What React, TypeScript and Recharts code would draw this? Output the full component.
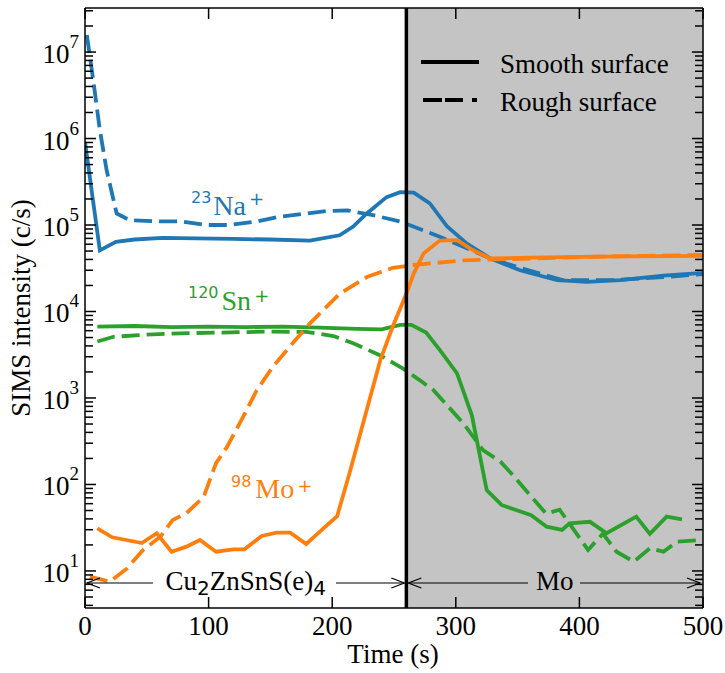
import React from 'react';
import { LineChart, Line, XAxis, YAxis, ReferenceArea, ReferenceLine } from 'recharts';

// [time (s), counts per second]
const naSmooth: [number, number][] = [
  [0, 9.1e5], [12, 5.1e4], [25, 6.4e4], [40, 6.8e4], [63, 7.1e4], [90, 7.0e4], [120, 6.9e4],
  [150, 6.8e4], [182, 6.6e4], [206, 7.6e4], [217, 9.6e4], [228, 1.36e5], [244, 2.1e5], [255, 2.4e5],
  [266, 2.37e5], [279, 1.78e5], [293, 9.6e4], [309, 6.1e4], [328, 4.1e4], [352, 3.0e4], [382, 2.3e4],
  [406, 2.2e4], [433, 2.3e4], [468, 2.6e4], [500, 2.8e4],
];
const naRough: [number, number][] = [
  [1.5, 1.57e7], [6.7, 4.7e6], [12, 1.26e6], [17.5, 4.3e5], [25.6, 1.36e5], [36, 1.14e5], [60, 1.1e5],
  [77, 1.1e5], [98, 1.0e5], [117, 1.0e5], [139, 1.1e5], [158, 1.25e5], [179, 1.36e5], [196, 1.45e5],
  [212, 1.48e5], [233, 1.3e5], [255, 1.1e5], [287, 7.3e4], [309, 5.4e4], [328, 4.1e4], [352, 3.2e4],
  [387, 2.3e4], [427, 2.3e4], [468, 2.5e4], [500, 2.7e4],
];
const snSmooth: [number, number][] = [
  [10, 6.7e3], [40, 6.8e3], [70, 6.6e3], [100, 6.7e3], [130, 6.6e3], [160, 6.7e3], [190, 6.5e3],
  [220, 6.3e3], [240, 6.2e3], [255, 7.0e3], [264, 7.0e3], [276, 5.7e3], [287, 3.6e3], [301, 1.93e3],
  [313, 630], [325, 86], [337, 58], [361, 44], [373.5, 32.5], [386, 29.8], [392, 35.5], [408.6, 37],
  [422, 27.3], [446, 42.5], [457, 26.8], [470.6, 42.5], [483, 39.6],
];
const snRough: [number, number][] = [
  [10, 4.5e3], [23, 5.1e3], [50, 5.4e3], [77, 5.6e3], [110, 5.7e3], [147, 5.85e3], [179, 5.8e3],
  [201, 5.2e3], [217, 4.3e3], [239, 3.1e3], [257, 2.2e3], [271, 1.6e3], [282, 1.23e3], [306, 510],
  [322, 250], [336, 184], [346, 129], [373, 46], [384, 51], [407, 17.5], [419, 27], [430, 16.7],
  [444, 12.8], [457, 18.3], [468, 16.7], [479, 21.8], [500, 22.8],
];
const moSmooth: [number, number][] = [
  [10, 31], [22, 24.5], [46, 21], [58, 27.3], [70, 16.7], [82, 19.1], [93, 22.8], [106, 16.7],
  [120, 17.8], [129, 17.8], [143, 25.4], [155, 27.7], [166, 27.7], [179, 20.5], [190, 28.5],
  [204, 43], [214, 135], [225, 510], [239, 2.76e3], [249, 6.7e3], [260, 1.6e4], [266, 2.76e4],
  [274, 4.7e4], [287, 6.6e4], [301, 6.7e4], [314, 5.1e4], [328, 4.1e4], [360, 4.2e4], [414, 4.3e4],
  [500, 4.4e4],
];
const moRough: [number, number][] = [
  [4, 8.6], [20, 7.5], [34, 10.7], [47, 17.5], [61, 24.9], [71, 38.9], [82, 46.4], [96, 72],
  [106, 176], [115, 273], [128, 608], [139, 1.23e3], [152, 2.3e3], [168, 4.3e3], [182, 7.3e3],
  [206, 1.6e4], [228, 2.5e4], [249, 3.2e4], [266, 3.45e4], [306, 3.9e4], [360, 4.1e4], [414, 4.3e4],
  [500, 4.5e4],
];

const xDomain: [number, number] = [0, 500];
const xTicks = [0, 100, 200, 300, 400, 500];
const yDomain: [number, number] = [3.73, 3.23e7];
const yDecades = [1e1, 1e2, 1e3, 1e4, 1e5, 1e6, 1e7];
const yMinor: number[] = [];
for (let n = 0; n <= 7; n++) {
  for (let k = 2; k <= 9; k++) {
    const v = k * Math.pow(10, n);
    if (v >= yDomain[0] && v <= yDomain[1]) yMinor.push(v);
  }
}

const BLUE = '#1f77b4';
const ORANGE = '#ff7f0e';
const GREEN = '#2ca02c';
const SERIF = '"Liberation Serif", "Times New Roman", serif';
const SANS = '"DejaVu Sans", sans-serif';

const W = 725;
const H = 673;
const LEFT = 85;
const RIGHT = 703;
const TOP = 8;
const BOTTOM = 608;
const DASH = '18 7';
const LW = 3.8;
const MAJOR = 11;
const MINOR = 8;

const rows = (pts: [number, number][]) => pts.map(([t, v]) => ({ t, v }));
const xPx = (t: number) => LEFT + (t * (RIGHT - LEFT)) / (xDomain[1] - xDomain[0]);
// tick lengths converted from pixels to data units, so Recharts' scales place them
const xLen = (px: number) => (px * (xDomain[1] - xDomain[0])) / (RIGHT - LEFT);
const decadePx = (BOTTOM - TOP) / Math.log10(yDomain[1] / yDomain[0]);
const yMul = (px: number) => Math.pow(10, px / decadePx);
const frame = { stroke: '#000', strokeWidth: 1.5 };

const YLabel = (props: any) => {
  const { y, payload } = props;
  const e = Math.round(Math.log10(payload.value));
  return (
    <text x={79} y={y + 11} textAnchor="end" fontFamily={SERIF} fontSize={27} fill="#000">
      10<tspan dy={-15} fontSize={19}>{e}</tspan>
    </text>
  );
};

const XLabel = (props: any) => {
  const { x, payload } = props;
  return (
    <text x={x} y={635} textAnchor="middle" fontFamily={SERIF} fontSize={27} fill="#000">
      {payload.value}
    </text>
  );
};

const Arrow = ({ x1, x2, y }: { x1: number; x2: number; y: number }) => {
  const d = x2 > x1 ? 1 : -1;
  return (
    <g stroke="#000" strokeWidth={1.2} fill="none">
      <line x1={x1} x2={x2} y1={y} y2={y} />
      <polyline points={`${x2 - d * 13},${y - 5} ${x2},${y} ${x2 - d * 13},${y + 5}`} />
    </g>
  );
};

const Overlay = () => {
  const ay = 583;
  return (
    <svg width={W} height={H} style={{ position: 'absolute', left: 0, top: 0, pointerEvents: 'none' }}>
      <text
        transform="translate(30,308) rotate(-90)"
        textAnchor="middle"
        fontFamily={SERIF}
        fontSize={27}
        fill="#000"
      >
        SIMS intensity (c/s)
      </text>
      <text x={393} y={663} textAnchor="middle" fontFamily={SERIF} fontSize={27} fill="#000">
        Time (s)
      </text>

      {/* layer arrows */}
      <Arrow x1={153} x2={xPx(0) + 2} y={ay} />
      <Arrow x1={336} x2={xPx(260) - 2} y={ay} />
      <text x={(xPx(0) + xPx(260)) / 2} y={590} textAnchor="middle" fontFamily={SERIF} fontSize={27} fill="#000">
        Cu<tspan fontFamily={SANS} fontSize={20} dy={5}>2</tspan>
        <tspan dy={-5}>ZnSnS(e)</tspan>
        <tspan fontFamily={SANS} fontSize={20} dy={5}>4</tspan>
      </text>
      <Arrow x1={528} x2={xPx(260) + 2} y={ay} />
      <Arrow x1={580} x2={xPx(500) - 3} y={ay} />
      <text x={(xPx(260) + xPx(500)) / 2} y={590} textAnchor="middle" fontFamily={SERIF} fontSize={27} fill="#000">
        Mo
      </text>

      {/* legend */}
      <line x1={421} x2={479} y1={62} y2={62} stroke="#000" strokeWidth={LW} />
      <text x={500} y={73} fontFamily={SERIF} fontSize={27} fill="#000">Smooth surface</text>
      <line x1={423} x2={478} y1={100} y2={100} stroke="#000" strokeWidth={LW} strokeDasharray="19 3 18 9 5 100" />
      <text x={500} y={111} fontFamily={SERIF} fontSize={27} fill="#000">Rough surface</text>

      {/* species labels */}
      <text x={191} y={215} fill={BLUE}>
        <tspan fontFamily={SANS} fontSize={16} dy={-12}>23</tspan>
        <tspan fontFamily={SERIF} fontSize={28} dy={12} dx={2}>Na</tspan>
        <tspan fontFamily={SANS} fontSize={18} dy={-10} dx={3}>+</tspan>
      </text>
      <text x={188} y={310} fill={GREEN}>
        <tspan fontFamily={SANS} fontSize={16} dy={-12}>120</tspan>
        <tspan fontFamily={SERIF} fontSize={28} dy={12} dx={3}>Sn</tspan>
        <tspan fontFamily={SANS} fontSize={18} dy={-8} dx={3}>+</tspan>
      </text>
      <text x={231} y={498} fill={ORANGE}>
        <tspan fontFamily={SANS} fontSize={16} dy={-11}>98</tspan>
        <tspan fontFamily={SERIF} fontSize={28} dy={11} dx={4}>Mo</tspan>
        <tspan fontFamily={SANS} fontSize={18} dy={-6} dx={3}>+</tspan>
      </text>
    </svg>
  );
};

const series = [
  { key: 'naS', data: naSmooth, color: BLUE, dash: undefined },
  { key: 'naR', data: naRough, color: BLUE, dash: DASH },
  { key: 'snS', data: snSmooth, color: GREEN, dash: undefined },
  { key: 'snR', data: snRough, color: GREEN, dash: DASH },
  { key: 'moS', data: moSmooth, color: ORANGE, dash: undefined },
  { key: 'moR', data: moRough, color: ORANGE, dash: DASH },
];

const seg = (key: string, a: { x: number; y: number }, b: { x: number; y: number }) => (
  <ReferenceLine key={key} xAxisId="b" yAxisId="l" segment={[a, b]} ifOverflow="visible" {...frame} />
);

// inward ticks on all four sides of the frame
const tickMarks = () => {
  const out: React.ReactNode[] = [];
  const [x0, x1] = xDomain;
  const [y0, y1] = yDomain;
  const yAll = [...yDecades.map((v) => [v, MAJOR]), ...yMinor.map((v) => [v, MINOR])];
  yAll.forEach(([v, len], i) => {
    out.push(seg(`yl${i}`, { x: x0, y: v }, { x: x0 + xLen(len), y: v }));
    out.push(seg(`yr${i}`, { x: x1 - xLen(len), y: v }, { x: x1, y: v }));
  });
  xTicks.forEach((t, i) => {
    out.push(seg(`xb${i}`, { x: t, y: y0 }, { x: t, y: y0 * yMul(MAJOR) }));
    out.push(seg(`xt${i}`, { x: t, y: y1 / yMul(MAJOR) }, { x: t, y: y1 }));
  });
  return out;
};

const App = () => {
  return (
    <div style={{ position: 'absolute', left: 0, top: 0, width: W, height: H, background: '#fff' }}>
      <LineChart width={W} height={H} margin={{ top: TOP, right: W - RIGHT, bottom: 0, left: 0 }}>
        <XAxis
          xAxisId="b"
          type="number"
          dataKey="t"
          domain={xDomain}
          ticks={xTicks}
          interval={0}
          height={H - BOTTOM}
          tickLine={false}
          tick={<XLabel />}
          axisLine={frame}
          allowDataOverflow
        />
        <YAxis
          yAxisId="l"
          type="number"
          scale="log"
          domain={yDomain}
          ticks={yDecades}
          interval={0}
          width={LEFT}
          tickLine={false}
          tick={<YLabel />}
          axisLine={frame}
          allowDataOverflow
        />
        <ReferenceArea xAxisId="b" yAxisId="l" x1={260} x2={500} fill="#c4c4c4" fillOpacity={1} stroke="none" />
        {series.map((s) => (
          <Line
            key={s.key}
            xAxisId="b"
            yAxisId="l"
            data={rows(s.data)}
            dataKey="v"
            type="linear"
            stroke={s.color}
            strokeWidth={LW}
            strokeDasharray={s.dash}
            dot={false}
            activeDot={false}
            isAnimationActive={false}
          />
        ))}
        <ReferenceLine xAxisId="b" yAxisId="l" x={260} stroke="#000" strokeWidth={3.5} />
        <ReferenceLine xAxisId="b" yAxisId="l" x={xDomain[1]} ifOverflow="visible" {...frame} />
        <ReferenceLine xAxisId="b" yAxisId="l" y={yDomain[1]} ifOverflow="visible" {...frame} />
        {tickMarks()}
      </LineChart>
      <Overlay />
    </div>
  );
};

export default App;
